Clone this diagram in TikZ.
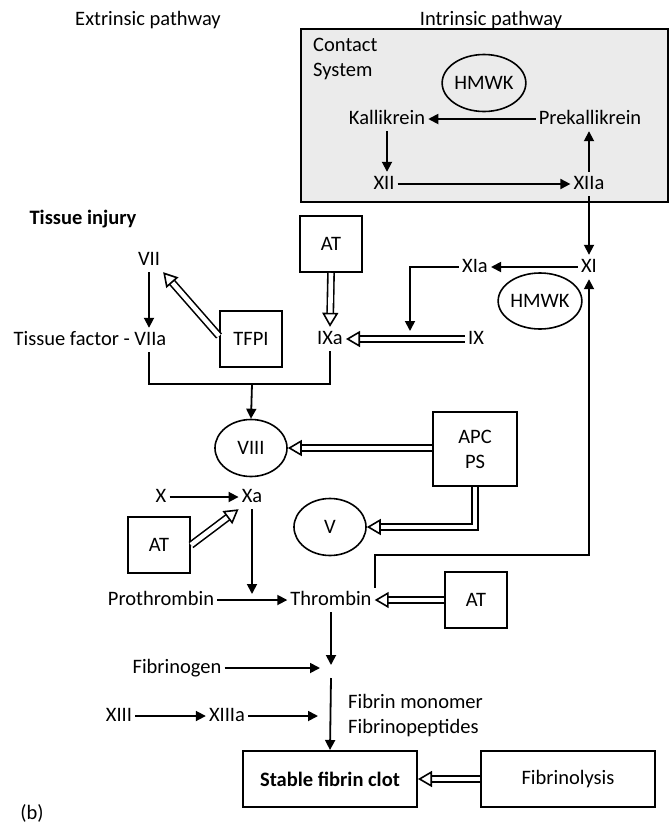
\documentclass[tikz,border=0pt]{standalone}
\usepackage{fontspec}
\setmainfont{Carlito}
\usetikzlibrary{arrows.meta,shapes.geometric}

\tikzset{
  lbl/.style={inner sep=3pt, text height=14pt, text depth=4pt},
  box/.style={draw, line width=2pt, minimum width=62pt, minimum height=56pt, align=center},
  oval/.style={draw, ellipse, line width=1.6pt, minimum width=72pt, minimum height=57pt, inner sep=0pt},
  act/.style={line width=1.8pt, -{Triangle[length=10pt,width=10pt]}},
  block/.style={double, double distance=4.6pt, line width=1.6pt, -{Triangle[open,length=14pt,width=16pt]}},
}

\begin{document}
\begin{tikzpicture}[x=1pt,y=-1pt,font=\fontsize{20.5}{25}\selectfont]
  \useasboundingbox (0,0) rectangle (669,825);

  \node (ext) at (148,20) {Extrinsic pathway};
  \node (int) at (491,20) {Intrinsic pathway};

  % contact system
  \draw[line width=2pt, fill=black!8] (301,29) rectangle (668,202);
  \node[align=left, anchor=north west, inner sep=0pt] (cs) at (313,38) {Contact\\System};
  \node[oval, minimum width=75pt] (hmwk1) at (484,83) {HMWK};
  \node[lbl] (kal) at (387,119) {Kallikrein};
  \node[lbl] (prek) at (590,119) {Prekallikrein};
  \node[lbl] (xii) at (384,184) {XII};
  \node[lbl] (xiia) at (589,184) {XIIa};
  \draw[act] (prek) -- (kal);
  \draw[act] (kal.south) -- (kal.south |- xii.north);
  \draw[act] (xii) -- (xiia);
  \draw[act] (xiia.north) -- (xiia.north |- prek.south);

  % intrinsic
  \node[lbl] (xi) at (589,267) {XI};
  \node[lbl] (xia) at (475,267) {XIa};
  \node[oval, minimum width=74pt, minimum height=56pt] (hmwk2) at (540,301) {HMWK};
  \node[lbl] (ix) at (476,339) {IX};
  \node[lbl] (ixa) at (330,339) {IXa};
  \node[box] (at1) at (331,244) {AT};
  \coordinate (xiadrop) at (410,331);
  \draw[act] (xiia.south) -- (xi.north);
  \draw[act] (xi) -- (xia);
  \draw[act] (xia.west) -| (xiadrop);
  \draw[block] (ix) -- (ixa);
  \draw[block] (at1.south) -- (ixa.north);

  % extrinsic
  \node[font=\fontsize{20.5}{25}\bfseries] (inj) at (83,219) {Tissue injury};
  \node[lbl] (vii) at (149,260) {VII};
  \node[lbl] (tf) at (90,340) {Tissue factor - VIIa};
  \node[box] (tfpi) at (251,339) {TFPI};
  \draw[act] (vii.south) -- (vii.south |- tf.north);
  \draw[block] ([yshift=3pt]tfpi.west) -- (vii.south east);
  \coordinate (join) at (252,384);
  \draw[line width=1.8pt] (tf.south -| vii) |- (join) -| (ixa.south);

  % common pathway
  \node[oval] (viii) at (251,448) {VIII};
  \node[box, minimum width=84pt, minimum height=74pt] (apc) at (475,449) {APC\\PS};
  \node[oval] (v) at (330,527) {V};
  \node[lbl] (x) at (161,497) {X};
  \node[lbl] (xa) at (252,497) {Xa};
  \node[box] (at2) at (159,545) {AT};
  \draw[act] (join) -- (viii.north);
  \draw[block] (apc.west |- viii) -- (viii.east);
  \draw[block] (apc.south) |- (v.east);
  \draw[act] (x) -- (xa);
  \draw[block] (at2.east) -- (xa.south west);

  \node[lbl] (proth) at (161,600) {Prothrombin};
  \node[lbl] (thr) at (331,600) {Thrombin};
  \node[box] (at3) at (476,600) {AT};
  \coordinate (hit) at (252,594);
  \coordinate (bend) at (589,555);
  \draw[act] (xa.south) -- (hit);
  \draw[act] (proth) -- (thr);
  \draw[block] (at3.west) -- (thr.east);
  \draw[act] (thr.north east) |- (bend) -- (xi.south);

  % fibrin formation
  \node[lbl] (fbg) at (177,668) {Fibrinogen};
  \node[lbl] (xiii) at (119,716) {XIII};
  \node[lbl] (xiiia) at (227,716) {XIIIa};
  \node[align=left, anchor=west, inner sep=0pt] (mono) at (348,716) {Fibrin monomer\\Fibrinopeptides};
  \node[box, minimum width=174pt, font=\fontsize{20.5}{25}\bfseries] (clot) at (330,779) {Stable fibrin clot};
  \node[box, minimum width=174pt] (lysis) at (568,779) {Fibrinolysis};
  \coordinate (fbtop) at (331,665);
  \coordinate (fbbot) at (331,678);
  \coordinate (fgend) at (320,668);
  \coordinate (xlend) at (318,716);
  \draw[act] (thr.south) -- (fbtop);
  \draw[act] (fbg) -- (fgend);
  \draw[act] (fbbot) -- (clot.north);
  \draw[act] (xiii) -- (xiiia);
  \draw[act] (xiiia) -- (xlend);
  \draw[block] (lysis.west) -- (clot.east);

  \node (tag) at (32,813) {(b)};
\end{tikzpicture}
\end{document}
